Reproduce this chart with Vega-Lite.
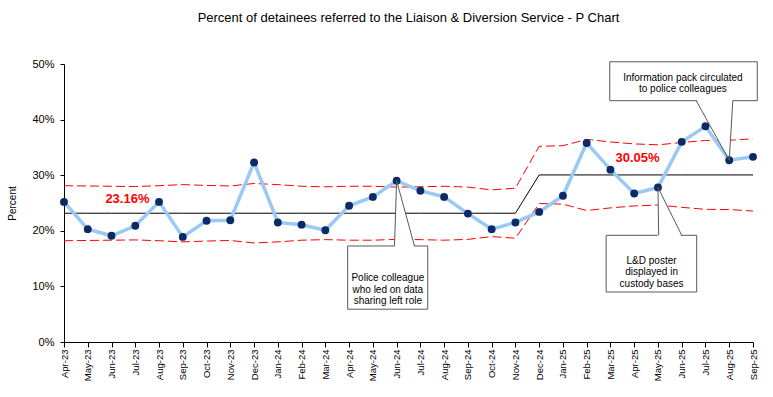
{
  "$schema": "https://vega.github.io/schema/vega-lite/v6.json",
  "width": 689,
  "height": 278,
  "autosize": {"type": "none"},
  "padding": {"left": 64, "top": 64, "right": 20, "bottom": 55},
  "background": "white",
  "config": {
    "font": "Liberation Sans",
    "view": {"stroke": null},
    "axis": {"grid": false, "domainColor": "black", "tickColor": "black", "labelColor": "black", "titleColor": "black", "labelFont": "Liberation Sans", "titleFont": "Liberation Sans"}
  },
  "title": {
    "text": "Percent of detainees referred to the Liaison & Diversion Service - P Chart",
    "fontSize": 13,
    "fontWeight": "normal",
    "font": "Liberation Sans",
    "color": "black",
    "anchor": "middle",
    "offset": 33
  },
  "datasets": {
    "chart": [
      {"month": "Apr-23", "i": 0, "pct": 25.2, "cl": 23.16, "ucl": 28.11, "lcl": 18.21},
      {"month": "May-23", "i": 1, "pct": 20.3, "cl": 23.16, "ucl": 28.06, "lcl": 18.26},
      {"month": "Jun-23", "i": 2, "pct": 19.1, "cl": 23.16, "ucl": 28.01, "lcl": 18.31},
      {"month": "Jul-23", "i": 3, "pct": 20.9, "cl": 23.16, "ucl": 27.96, "lcl": 18.36},
      {"month": "Aug-23", "i": 4, "pct": 25.2, "cl": 23.16, "ucl": 28.11, "lcl": 18.21},
      {"month": "Sep-23", "i": 5, "pct": 18.9, "cl": 23.16, "ucl": 28.31, "lcl": 18.01},
      {"month": "Oct-23", "i": 6, "pct": 21.8, "cl": 23.16, "ucl": 28.16, "lcl": 18.16},
      {"month": "Nov-23", "i": 7, "pct": 21.9, "cl": 23.16, "ucl": 28.06, "lcl": 18.26},
      {"month": "Dec-23", "i": 8, "pct": 32.3, "cl": 23.16, "ucl": 28.51, "lcl": 17.81},
      {"month": "Jan-24", "i": 9, "pct": 21.5, "cl": 23.16, "ucl": 28.31, "lcl": 18.01},
      {"month": "Feb-24", "i": 10, "pct": 21.1, "cl": 23.16, "ucl": 28.01, "lcl": 18.31},
      {"month": "Mar-24", "i": 11, "pct": 20.1, "cl": 23.16, "ucl": 27.91, "lcl": 18.41},
      {"month": "Apr-24", "i": 12, "pct": 24.5, "cl": 23.16, "ucl": 28.01, "lcl": 18.31},
      {"month": "May-24", "i": 13, "pct": 26.1, "cl": 23.16, "ucl": 28.01, "lcl": 18.31},
      {"month": "Jun-24", "i": 14, "pct": 29.0, "cl": 23.16, "ucl": 27.86, "lcl": 18.46},
      {"month": "Jul-24", "i": 15, "pct": 27.2, "cl": 23.16, "ucl": 27.91, "lcl": 18.41},
      {"month": "Aug-24", "i": 16, "pct": 26.1, "cl": 23.16, "ucl": 28.01, "lcl": 18.31},
      {"month": "Sep-24", "i": 17, "pct": 23.1, "cl": 23.16, "ucl": 27.86, "lcl": 18.46},
      {"month": "Oct-24", "i": 18, "pct": 20.3, "cl": 23.16, "ucl": 27.36, "lcl": 18.96},
      {"month": "Nov-24", "i": 19, "pct": 21.5, "cl": 23.16, "ucl": 27.66, "lcl": 18.66},
      {"month": "Dec-24", "i": 20, "pct": 23.4, "cl": 30.05, "ucl": 35.2, "lcl": 24.9},
      {"month": "Jan-25", "i": 21, "pct": 26.3, "cl": 30.05, "ucl": 35.3, "lcl": 24.8},
      {"month": "Feb-25", "i": 22, "pct": 35.8, "cl": 30.05, "ucl": 36.45, "lcl": 23.65},
      {"month": "Mar-25", "i": 23, "pct": 31.0, "cl": 30.05, "ucl": 35.98, "lcl": 24.12},
      {"month": "Apr-25", "i": 24, "pct": 26.7, "cl": 30.05, "ucl": 35.63, "lcl": 24.47},
      {"month": "May-25", "i": 25, "pct": 27.8, "cl": 30.05, "ucl": 35.46, "lcl": 24.64},
      {"month": "Jun-25", "i": 26, "pct": 36.0, "cl": 30.05, "ucl": 35.88, "lcl": 24.22},
      {"month": "Jul-25", "i": 27, "pct": 38.8, "cl": 30.05, "ucl": 36.24, "lcl": 23.86},
      {"month": "Aug-25", "i": 28, "pct": 32.7, "cl": 30.05, "ucl": 36.28, "lcl": 23.82},
      {"month": "Sep-25", "i": 29, "pct": 33.3, "cl": 30.05, "ucl": 36.55, "lcl": 23.55}
    ],
    "boxes": [
      {"box": 1, "bx": 11.94, "bx2": 15.31, "by": 17.27, "by2": 5.9, "tx": 13.63, "ty": 11.46, "note": "Police colleague\nwho led on data\nsharing left role"},
      {"box": 2, "bx": 22.82, "bx2": 26.63, "by": 19.19, "by2": 8.99, "tx": 24.73, "ty": 14.62, "note": "L&D poster\ndisplayed in\ncustody bases"},
      {"box": 3, "bx": 22.97, "bx2": 29.18, "by": 50.4, "by2": 43.4, "tx": 26.05, "ty": 47.57, "note": "Information pack circulated\nto police colleagues"}
    ],
    "wedges": [
      {"box": 1, "wx": 13.91, "wy": 17.0, "wy2": 17.0},
      {"box": 1, "wx": 14.0, "wy": 29.0, "wy2": 17.0},
      {"box": 1, "wx": 14.75, "wy": 17.0, "wy2": 17.0},
      {"box": 2, "wx": 24.99, "wy": 18.9, "wy2": 18.9},
      {"box": 2, "wx": 25.0, "wy": 27.8, "wy2": 18.9},
      {"box": 2, "wx": 26.0, "wy": 18.9, "wy2": 18.9},
      {"box": 3, "wx": 26.61, "wy": 43.7, "wy2": 43.7},
      {"box": 3, "wx": 28.0, "wy": 32.7, "wy2": 43.7},
      {"box": 3, "wx": 28.15, "wy": 43.7, "wy2": 43.7}
    ],
    "leaders": [
      {"lx": 13.91, "ly": 17.27, "lx2": 14.0, "ly2": 29.0},
      {"lx": 14.75, "ly": 17.27, "lx2": 14.0, "ly2": 29.0},
      {"lx": 25.03, "ly": 19.19, "lx2": 25.0, "ly2": 27.8},
      {"lx": 26.0, "ly": 19.19, "lx2": 25.0, "ly2": 27.8},
      {"lx": 26.61, "ly": 43.4, "lx2": 28.0, "ly2": 32.7},
      {"lx": 28.15, "ly": 43.4, "lx2": 28.0, "ly2": 32.7}
    ],
    "labels": [
      {"px": 2.67, "py": 25.72, "label": "23.16%"},
      {"px": 24.14, "py": 33.09, "label": "30.05%"}
    ]
  },
  "layer": [
    {
      "data": {"name": "chart"},
      "mark": {"type": "line", "color": "#FF0000", "strokeWidth": 1, "strokeDash": [9, 4]},
      "encoding": {
        "x": {"field": "i", "type": "quantitative", "title": null, "scale": {"domain": [0, 29], "nice": false, "zero": false},
          "axis": {"values": [0,1,2,3,4,5,6,7,8,9,10,11,12,13,14,15,16,17,18,19,20,21,22,23,24,25,26,27,28,29], "labelExpr": "['Apr-23','May-23','Jun-23','Jul-23','Aug-23','Sep-23','Oct-23','Nov-23','Dec-23','Jan-24','Feb-24','Mar-24','Apr-24','May-24','Jun-24','Jul-24','Aug-24','Sep-24','Oct-24','Nov-24','Dec-24','Jan-25','Feb-25','Mar-25','Apr-25','May-25','Jun-25','Jul-25','Aug-25','Sep-25'][datum.value]", "labelAngle": 270, "labelFontSize": 9.5, "labelPadding": 2, "tickSize": 5, "title": null, "labelOverlap": false, "labelFlush": false}},
        "y": {"field": "ucl", "type": "quantitative", "title": "Percent", "scale": {"domain": [0, 50], "nice": false},
          "axis": {"values": [0, 10, 20, 30, 40, 50], "labelExpr": "datum.value + '%'", "labelFontSize": 11, "labelPadding": 6, "tickSize": 4, "title": "Percent", "titleFontSize": 10, "titleFontWeight": "normal", "titlePadding": 14, "labelOverlap": false}}
      }
    },
    {
      "data": {"name": "chart"},
      "mark": {"type": "line", "color": "#FF0000", "strokeWidth": 1, "strokeDash": [9, 4]},
      "encoding": {
        "x": {"field": "i", "type": "quantitative", "title": null, "scale": {"domain": [0, 29], "nice": false, "zero": false},
          "axis": {"values": [0,1,2,3,4,5,6,7,8,9,10,11,12,13,14,15,16,17,18,19,20,21,22,23,24,25,26,27,28,29], "labelExpr": "['Apr-23','May-23','Jun-23','Jul-23','Aug-23','Sep-23','Oct-23','Nov-23','Dec-23','Jan-24','Feb-24','Mar-24','Apr-24','May-24','Jun-24','Jul-24','Aug-24','Sep-24','Oct-24','Nov-24','Dec-24','Jan-25','Feb-25','Mar-25','Apr-25','May-25','Jun-25','Jul-25','Aug-25','Sep-25'][datum.value]", "labelAngle": 270, "labelFontSize": 9.5, "labelPadding": 2, "tickSize": 5, "title": null, "labelOverlap": false, "labelFlush": false}},
        "y": {"field": "lcl", "type": "quantitative", "title": "Percent", "scale": {"domain": [0, 50], "nice": false},
          "axis": {"values": [0, 10, 20, 30, 40, 50], "labelExpr": "datum.value + '%'", "labelFontSize": 11, "labelPadding": 6, "tickSize": 4, "title": "Percent", "titleFontSize": 10, "titleFontWeight": "normal", "titlePadding": 14, "labelOverlap": false}}
      }
    },
    {
      "data": {"name": "chart"},
      "mark": {"type": "line", "color": "black", "strokeWidth": 1},
      "encoding": {
        "x": {"field": "i", "type": "quantitative", "title": null, "scale": {"domain": [0, 29], "nice": false, "zero": false},
          "axis": {"values": [0,1,2,3,4,5,6,7,8,9,10,11,12,13,14,15,16,17,18,19,20,21,22,23,24,25,26,27,28,29], "labelExpr": "['Apr-23','May-23','Jun-23','Jul-23','Aug-23','Sep-23','Oct-23','Nov-23','Dec-23','Jan-24','Feb-24','Mar-24','Apr-24','May-24','Jun-24','Jul-24','Aug-24','Sep-24','Oct-24','Nov-24','Dec-24','Jan-25','Feb-25','Mar-25','Apr-25','May-25','Jun-25','Jul-25','Aug-25','Sep-25'][datum.value]", "labelAngle": 270, "labelFontSize": 9.5, "labelPadding": 2, "tickSize": 5, "title": null, "labelOverlap": false, "labelFlush": false}},
        "y": {"field": "cl", "type": "quantitative", "title": "Percent", "scale": {"domain": [0, 50], "nice": false},
          "axis": {"values": [0, 10, 20, 30, 40, 50], "labelExpr": "datum.value + '%'", "labelFontSize": 11, "labelPadding": 6, "tickSize": 4, "title": "Percent", "titleFontSize": 10, "titleFontWeight": "normal", "titlePadding": 14, "labelOverlap": false}}
      }
    },
    {
      "data": {"name": "boxes"},
      "mark": {"type": "rect", "fill": "white", "stroke": "#595959", "strokeWidth": 1},
      "encoding": {
        "x": {"field": "bx", "type": "quantitative", "title": null, "scale": {"domain": [0, 29], "nice": false, "zero": false},
          "axis": {"values": [0,1,2,3,4,5,6,7,8,9,10,11,12,13,14,15,16,17,18,19,20,21,22,23,24,25,26,27,28,29], "labelExpr": "['Apr-23','May-23','Jun-23','Jul-23','Aug-23','Sep-23','Oct-23','Nov-23','Dec-23','Jan-24','Feb-24','Mar-24','Apr-24','May-24','Jun-24','Jul-24','Aug-24','Sep-24','Oct-24','Nov-24','Dec-24','Jan-25','Feb-25','Mar-25','Apr-25','May-25','Jun-25','Jul-25','Aug-25','Sep-25'][datum.value]", "labelAngle": 270, "labelFontSize": 9.5, "labelPadding": 2, "tickSize": 5, "title": null, "labelOverlap": false, "labelFlush": false}},
        "x2": {"field": "bx2"},
        "y": {"field": "by", "type": "quantitative", "title": "Percent", "scale": {"domain": [0, 50], "nice": false},
          "axis": {"values": [0, 10, 20, 30, 40, 50], "labelExpr": "datum.value + '%'", "labelFontSize": 11, "labelPadding": 6, "tickSize": 4, "title": "Percent", "titleFontSize": 10, "titleFontWeight": "normal", "titlePadding": 14, "labelOverlap": false}},
        "y2": {"field": "by2"}
      }
    },
    {
      "data": {"name": "wedges"},
      "mark": {"type": "area", "fill": "white", "opacity": 1},
      "encoding": {
        "x": {"field": "wx", "type": "quantitative", "title": null, "scale": {"domain": [0, 29], "nice": false, "zero": false},
          "axis": {"values": [0,1,2,3,4,5,6,7,8,9,10,11,12,13,14,15,16,17,18,19,20,21,22,23,24,25,26,27,28,29], "labelExpr": "['Apr-23','May-23','Jun-23','Jul-23','Aug-23','Sep-23','Oct-23','Nov-23','Dec-23','Jan-24','Feb-24','Mar-24','Apr-24','May-24','Jun-24','Jul-24','Aug-24','Sep-24','Oct-24','Nov-24','Dec-24','Jan-25','Feb-25','Mar-25','Apr-25','May-25','Jun-25','Jul-25','Aug-25','Sep-25'][datum.value]", "labelAngle": 270, "labelFontSize": 9.5, "labelPadding": 2, "tickSize": 5, "title": null, "labelOverlap": false, "labelFlush": false}},
        "y": {"field": "wy", "type": "quantitative", "title": "Percent", "scale": {"domain": [0, 50], "nice": false},
          "axis": {"values": [0, 10, 20, 30, 40, 50], "labelExpr": "datum.value + '%'", "labelFontSize": 11, "labelPadding": 6, "tickSize": 4, "title": "Percent", "titleFontSize": 10, "titleFontWeight": "normal", "titlePadding": 14, "labelOverlap": false}},
        "y2": {"field": "wy2"},
        "detail": {"field": "box", "type": "nominal"}
      }
    },
    {
      "data": {"name": "chart"},
      "mark": {"type": "line", "color": "#99C9F5", "strokeWidth": 3.5},
      "encoding": {
        "x": {"field": "i", "type": "quantitative", "title": null, "scale": {"domain": [0, 29], "nice": false, "zero": false},
          "axis": {"values": [0,1,2,3,4,5,6,7,8,9,10,11,12,13,14,15,16,17,18,19,20,21,22,23,24,25,26,27,28,29], "labelExpr": "['Apr-23','May-23','Jun-23','Jul-23','Aug-23','Sep-23','Oct-23','Nov-23','Dec-23','Jan-24','Feb-24','Mar-24','Apr-24','May-24','Jun-24','Jul-24','Aug-24','Sep-24','Oct-24','Nov-24','Dec-24','Jan-25','Feb-25','Mar-25','Apr-25','May-25','Jun-25','Jul-25','Aug-25','Sep-25'][datum.value]", "labelAngle": 270, "labelFontSize": 9.5, "labelPadding": 2, "tickSize": 5, "title": null, "labelOverlap": false, "labelFlush": false}},
        "y": {"field": "pct", "type": "quantitative", "title": "Percent", "scale": {"domain": [0, 50], "nice": false},
          "axis": {"values": [0, 10, 20, 30, 40, 50], "labelExpr": "datum.value + '%'", "labelFontSize": 11, "labelPadding": 6, "tickSize": 4, "title": "Percent", "titleFontSize": 10, "titleFontWeight": "normal", "titlePadding": 14, "labelOverlap": false}}
      }
    },
    {
      "data": {"name": "chart"},
      "mark": {"type": "circle", "color": "#0B2A66", "size": 62, "opacity": 1},
      "encoding": {
        "x": {"field": "i", "type": "quantitative", "title": null, "scale": {"domain": [0, 29], "nice": false, "zero": false},
          "axis": {"values": [0,1,2,3,4,5,6,7,8,9,10,11,12,13,14,15,16,17,18,19,20,21,22,23,24,25,26,27,28,29], "labelExpr": "['Apr-23','May-23','Jun-23','Jul-23','Aug-23','Sep-23','Oct-23','Nov-23','Dec-23','Jan-24','Feb-24','Mar-24','Apr-24','May-24','Jun-24','Jul-24','Aug-24','Sep-24','Oct-24','Nov-24','Dec-24','Jan-25','Feb-25','Mar-25','Apr-25','May-25','Jun-25','Jul-25','Aug-25','Sep-25'][datum.value]", "labelAngle": 270, "labelFontSize": 9.5, "labelPadding": 2, "tickSize": 5, "title": null, "labelOverlap": false, "labelFlush": false}},
        "y": {"field": "pct", "type": "quantitative", "title": "Percent", "scale": {"domain": [0, 50], "nice": false},
          "axis": {"values": [0, 10, 20, 30, 40, 50], "labelExpr": "datum.value + '%'", "labelFontSize": 11, "labelPadding": 6, "tickSize": 4, "title": "Percent", "titleFontSize": 10, "titleFontWeight": "normal", "titlePadding": 14, "labelOverlap": false}}
      }
    },
    {
      "data": {"name": "leaders"},
      "mark": {"type": "rule", "color": "#595959", "strokeWidth": 1},
      "encoding": {
        "x": {"field": "lx", "type": "quantitative", "title": null, "scale": {"domain": [0, 29], "nice": false, "zero": false},
          "axis": {"values": [0,1,2,3,4,5,6,7,8,9,10,11,12,13,14,15,16,17,18,19,20,21,22,23,24,25,26,27,28,29], "labelExpr": "['Apr-23','May-23','Jun-23','Jul-23','Aug-23','Sep-23','Oct-23','Nov-23','Dec-23','Jan-24','Feb-24','Mar-24','Apr-24','May-24','Jun-24','Jul-24','Aug-24','Sep-24','Oct-24','Nov-24','Dec-24','Jan-25','Feb-25','Mar-25','Apr-25','May-25','Jun-25','Jul-25','Aug-25','Sep-25'][datum.value]", "labelAngle": 270, "labelFontSize": 9.5, "labelPadding": 2, "tickSize": 5, "title": null, "labelOverlap": false, "labelFlush": false}},
        "x2": {"field": "lx2"},
        "y": {"field": "ly", "type": "quantitative", "title": "Percent", "scale": {"domain": [0, 50], "nice": false},
          "axis": {"values": [0, 10, 20, 30, 40, 50], "labelExpr": "datum.value + '%'", "labelFontSize": 11, "labelPadding": 6, "tickSize": 4, "title": "Percent", "titleFontSize": 10, "titleFontWeight": "normal", "titlePadding": 14, "labelOverlap": false}},
        "y2": {"field": "ly2"}
      }
    },
    {
      "data": {"name": "boxes"},
      "mark": {"type": "text", "fontSize": 10, "color": "black", "lineBreak": "\n", "lineHeight": 11.4, "align": "center", "baseline": "middle", "font": "Liberation Sans"},
      "encoding": {
        "x": {"field": "tx", "type": "quantitative", "title": null, "scale": {"domain": [0, 29], "nice": false, "zero": false},
          "axis": {"values": [0,1,2,3,4,5,6,7,8,9,10,11,12,13,14,15,16,17,18,19,20,21,22,23,24,25,26,27,28,29], "labelExpr": "['Apr-23','May-23','Jun-23','Jul-23','Aug-23','Sep-23','Oct-23','Nov-23','Dec-23','Jan-24','Feb-24','Mar-24','Apr-24','May-24','Jun-24','Jul-24','Aug-24','Sep-24','Oct-24','Nov-24','Dec-24','Jan-25','Feb-25','Mar-25','Apr-25','May-25','Jun-25','Jul-25','Aug-25','Sep-25'][datum.value]", "labelAngle": 270, "labelFontSize": 9.5, "labelPadding": 2, "tickSize": 5, "title": null, "labelOverlap": false, "labelFlush": false}},
        "y": {"field": "ty", "type": "quantitative", "title": "Percent", "scale": {"domain": [0, 50], "nice": false},
          "axis": {"values": [0, 10, 20, 30, 40, 50], "labelExpr": "datum.value + '%'", "labelFontSize": 11, "labelPadding": 6, "tickSize": 4, "title": "Percent", "titleFontSize": 10, "titleFontWeight": "normal", "titlePadding": 14, "labelOverlap": false}},
        "text": {"field": "note"}
      }
    },
    {
      "data": {"name": "labels"},
      "mark": {"type": "text", "fontSize": 13, "fontWeight": "bold", "color": "#FF0000", "align": "center", "baseline": "middle", "font": "Liberation Sans"},
      "encoding": {
        "x": {"field": "px", "type": "quantitative", "title": null, "scale": {"domain": [0, 29], "nice": false, "zero": false},
          "axis": {"values": [0,1,2,3,4,5,6,7,8,9,10,11,12,13,14,15,16,17,18,19,20,21,22,23,24,25,26,27,28,29], "labelExpr": "['Apr-23','May-23','Jun-23','Jul-23','Aug-23','Sep-23','Oct-23','Nov-23','Dec-23','Jan-24','Feb-24','Mar-24','Apr-24','May-24','Jun-24','Jul-24','Aug-24','Sep-24','Oct-24','Nov-24','Dec-24','Jan-25','Feb-25','Mar-25','Apr-25','May-25','Jun-25','Jul-25','Aug-25','Sep-25'][datum.value]", "labelAngle": 270, "labelFontSize": 9.5, "labelPadding": 2, "tickSize": 5, "title": null, "labelOverlap": false, "labelFlush": false}},
        "y": {"field": "py", "type": "quantitative", "title": "Percent", "scale": {"domain": [0, 50], "nice": false},
          "axis": {"values": [0, 10, 20, 30, 40, 50], "labelExpr": "datum.value + '%'", "labelFontSize": 11, "labelPadding": 6, "tickSize": 4, "title": "Percent", "titleFontSize": 10, "titleFontWeight": "normal", "titlePadding": 14, "labelOverlap": false}},
        "text": {"field": "label"}
      }
    }
  ]
}
